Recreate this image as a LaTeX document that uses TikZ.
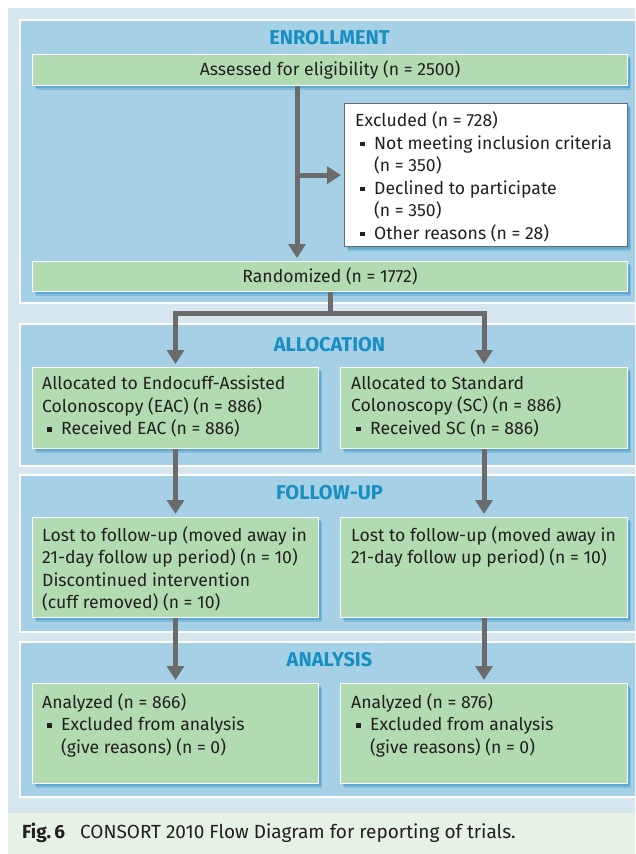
\documentclass[tikz,border=0pt]{standalone}
\usepackage{fontspec}
\setmainfont{Fira Sans}
\usetikzlibrary{arrows.meta,shadows,calc}
\definecolor{outerbg}{HTML}{D6E7F0}
\definecolor{panelblue}{HTML}{A5D0E5}
\definecolor{boxgreen}{HTML}{B2DBB1}
\definecolor{capbg}{HTML}{E6F2E5}
\definecolor{shadowblue}{HTML}{3E9CCB}
\definecolor{arrowgray}{HTML}{6B6B6B}
\definecolor{titleblue}{HTML}{178FC3}
\definecolor{textdark}{HTML}{231F20}
\newcommand\myitem{\hspace*{5pt}\rule[3pt]{4.5pt}{4.5pt}\hspace*{9.5pt}}
\newcommand\myindent{\hspace*{19pt}}
\begin{document}
\begin{tikzpicture}[x=1pt,y=-1pt,
  panel/.style={fill=panelblue, draw=white, line width=1.2pt},
  box/.style={fill=boxgreen, draw=white, line width=1pt, inner sep=0pt, anchor=north west,
    text=textdark, font=\fontsize{17.6}{22.5}\selectfont,
    drop shadow={shadow xshift=3pt, shadow yshift=-4pt, fill=shadowblue, opacity=.35},
    drop shadow={shadow xshift=2pt, shadow yshift=-2.5pt, fill=shadowblue, opacity=.55}},
  exbox/.style={box, fill=white, draw=gray!85!black, line width=1.2pt},
  txt/.style={anchor=north west, inner sep=0pt, align=left, text=textdark,
    font=\fontsize{17.6}{22.5}\selectfont},
  title/.style={text=titleblue, font=\fontsize{20}{22}\selectfont\bfseries, inner sep=0pt},
  arr/.style={draw=arrowgray, line width=5pt, -{Triangle[width=17pt,length=14pt]}, shorten >=3pt},
  line/.style={draw=arrowgray, line width=5pt}
]
\useasboundingbox (0,0) rectangle (635,854);
\clip (0,0) rectangle (635,854);
% backgrounds
\fill[white] (0,0) rectangle (635,854);
\fill[outerbg] (8,8) rectangle (640,813);
\fill[capbg] (8,813) rectangle (640,854);
% panels
\draw[panel] (20,20) rectangle (650,303);
\draw[panel] (20,324) rectangle (650,466);
\draw[panel] (20,475) rectangle (650,632);
\draw[panel] (20,642) rectangle (650,797);
% titles
\node[title] (t1) at (329.5,38) {ENROLLMENT};
\node[title] (t2) at (329.5,345) {ALLOCATION};
\node[title] (t3) at (329.5,493) {FOLLOW-UP};
\node[title] (t4) at (329.5,660) {ANALYSIS};
% enrollment
\node[box, minimum width=595pt, minimum height=31pt] (assess) at (32,54) {Assessed for eligibility (n = 2500)};
\node[exbox, minimum width=283pt, minimum height=143pt] (excl) at (344,103) {};
\node[txt] (exclt) at ($(excl.north west)+(11,8.5)$) {Excluded (n = 728)\\
\myitem Not meeting inclusion criteria\\
\myindent(n = 350)\\
\myitem Declined to participate\\
\myindent(n = 350)\\
\myitem Other reasons (n = 28)};
\node[box, minimum width=595pt, minimum height=30pt] (rand) at (32,261) {Randomized (n = 1772)};
% allocation
\node[box, minimum width=286pt, minimum height=81pt] (allocL) at (32,367) {};
\node[box, minimum width=287pt, minimum height=81pt] (allocR) at (340,367) {};
\node[txt] (allocLt) at ($(allocL.north west)+(10,9)$) {Allocated to Endocuff-Assisted\\
Colonoscopy (EAC) (n = 886)\\
\myitem Received EAC (n = 886)};
\node[txt] (allocRt) at ($(allocR.north west)+(11,9)$) {Allocated to Standard\\
Colonoscopy (SC) (n = 886)\\
\myitem Received SC (n = 886)};
% follow-up
\node[box, minimum width=286pt, minimum height=100pt] (fuL) at (32,517) {};
\node[box, minimum width=287pt, minimum height=100pt] (fuR) at (340,517) {};
\node[txt] (fuLt) at ($(fuL.north west)+(10,9)$) {Lost to follow-up (moved away in\\
21-day follow up period) (n = 10)\\
Discontinued intervention\\
(cuff removed) (n = 10)};
\node[txt] (fuRt) at ($(fuR.north west)+(11,9)$) {Lost to follow-up (moved away in\\
21-day follow up period) (n = 10)};
% analysis
\node[box, minimum width=286pt, minimum height=100pt] (anL) at (32,683) {};
\node[box, minimum width=287pt, minimum height=100pt] (anR) at (340,683) {};
\node[txt] (anLt) at ($(anL.north west)+(10,10)$) {Analyzed (n = 866)\\
\myitem Excluded from analysis\\
\myindent(give reasons) (n = 0)};
\node[txt] (anRt) at ($(anR.north west)+(11,10)$) {Analyzed (n = 876)\\
\myitem Excluded from analysis\\
\myindent(give reasons) (n = 0)};
% connectors
\coordinate (ax) at (297,0);
\draw[arr] (assess.south -| ax) -- (rand.north -| ax);
\draw[arr] (excl.west -| ax) -- (excl.west);
\coordinate (split) at ($(rand.south)+(0,21)$);
\draw[line] (rand.south) -- (split);
\draw[arr] (split) -| (allocL.north);
\draw[arr] (split) -| (allocR.north);
\draw[arr] (allocL.south) -- (fuL.north);
\draw[arr] (allocR.south) -- (fuR.north);
\draw[arr] (fuL.south) -- (anL.north);
\draw[arr] (fuR.south) -- (anR.north);
% caption
\node[anchor=base west, inner sep=0pt, text=textdark, font=\fontsize{19}{21}\selectfont\bfseries] (figlab) at (22,838) {Fig.\,6};
\node[anchor=base west, inner sep=0pt, text=textdark, font=\fontsize{19}{21}\selectfont] (figcap) at (80,838) {CONSORT 2010 Flow Diagram for reporting of trials.};
\end{tikzpicture}
\end{document}
